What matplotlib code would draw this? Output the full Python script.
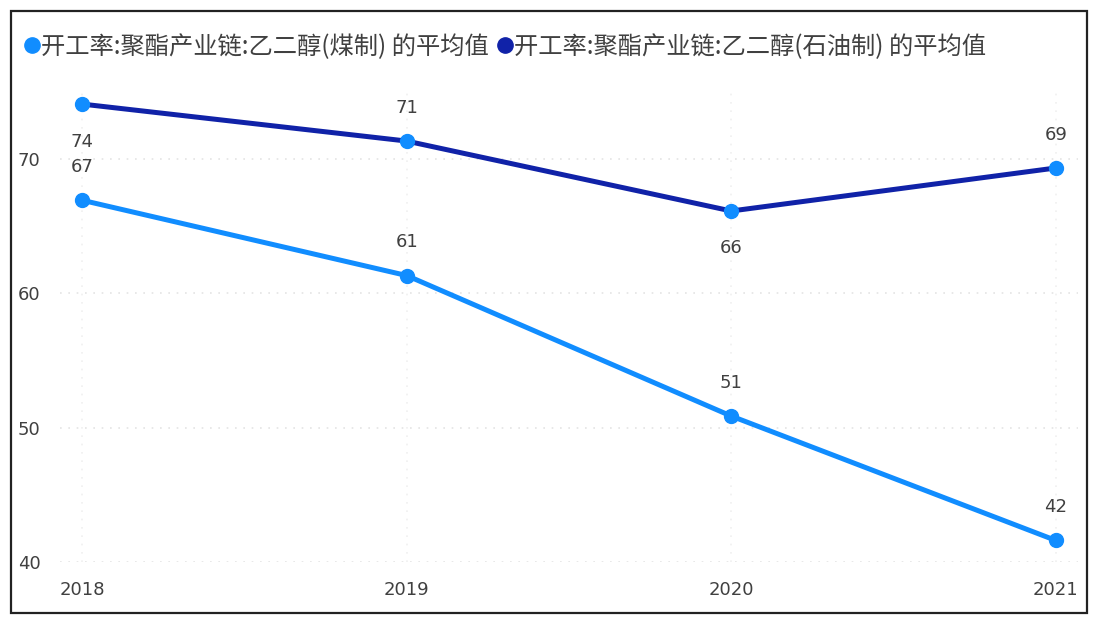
import matplotlib
matplotlib.use("Agg")
import matplotlib.pyplot as plt
from matplotlib.patches import Rectangle
from matplotlib.lines import Line2D

plt.rcParams['font.family'] = ['Noto Sans CJK SC', 'DejaVu Sans']

years = ["2018", "2019", "2020", "2021"]
coal = [66.9, 61.3, 50.85, 41.6]        # 乙二醇(煤制)
oil = [74.05, 71.3, 66.1, 69.3]          # 乙二醇(石油制)
coal_name = "开工率:聚酯产业链:乙二醇(煤制) 的平均值"
oil_name = "开工率:聚酯产业链:乙二醇(石油制) 的平均值"
yticks = [40, 50, 60, 70]

LIGHT = "#118DFF"
DARK = "#1022A8"
TXT = "#404040"

W, H = 1098, 624
fig = plt.figure(figsize=(W / 100, H / 100), dpi=100)
fig.patch.set_facecolor("white")

# axes placed in pixel terms
ax = fig.add_axes([60 / W, 1 - 562 / H, 1018 / W, (562 - 91.3) / H])
ax.set_facecolor("none")
x = list(range(len(years)))

ax.plot(x, oil, color=DARK, lw=3.6, solid_capstyle="round", zorder=3)
ax.plot(x, coal, color=LIGHT, lw=3.6, solid_capstyle="round", zorder=3)
ax.plot(x, oil, ls="none", marker="o", ms=10, color=LIGHT, zorder=4)
ax.plot(x, coal, ls="none", marker="o", ms=10, color=LIGHT, zorder=4)

# data labels: +1 above, -1 below
oil_pos = [-1, 1, -1, 1]
coal_pos = [1, 1, 1, 1]
for series, pos in ((oil, oil_pos), (coal, coal_pos)):
    for xi, v, p in zip(x, series, pos):
        off = 24 if p > 0 else -27
        ax.annotate(f"{round(v)}", (xi, v), xytext=(0, off), textcoords="offset points",
                    ha="center", va="center", fontsize=13, color=TXT,
                    family=['DejaVu Sans'])

ax.set_xlim(-0.068, 3.068)
ax.set_ylim(40, 75)
ax.set_xticks(x)
ax.set_xticklabels(years)
ax.set_yticks(yticks)
for lab in ax.get_xticklabels() + ax.get_yticklabels():
    lab.set_family(['DejaVu Sans'])
ax.tick_params(axis="both", length=0, labelsize=13, colors=TXT)
ax.tick_params(axis="x", pad=14)
ax.tick_params(axis="y", pad=14)
for s in ax.spines.values():
    s.set_visible(False)
ax.grid(axis="y", color="#e4e4e4", ls=(0, (1, 4)), lw=1.2)
ax.grid(axis="x", color="#f0f0f0", ls=(0, (1, 4)), lw=1.2)
ax.set_axisbelow(True)

# legend row
handles = [Line2D([], [], ls="none", marker="o", ms=11, color=LIGHT),
           Line2D([], [], ls="none", marker="o", ms=11, color=DARK)]
fig.legend(handles, [coal_name, oil_name], loc="center left",
           bbox_to_anchor=(14 / W, 1 - 47 / H), ncol=2, frameon=False,
           fontsize=17.5, handlelength=0.5, handletextpad=0.12,
           columnspacing=0.4, labelcolor=TXT, borderpad=0)

# outer frame
fig.patches.append(Rectangle((11 / W, 1 - 613 / H), 1076 / W, 602 / H,
                             transform=fig.transFigure, fill=False,
                             edgecolor="#222222", lw=1.6))

fig.savefig("out.png", dpi=100)
